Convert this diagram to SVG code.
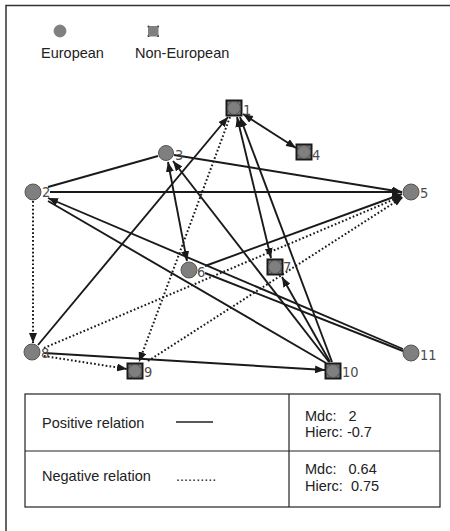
<svg xmlns="http://www.w3.org/2000/svg" width="450" height="531" viewBox="0 0 450 531">
<defs>
<style>
.e{stroke:#1a1a1a;stroke-width:1.9;fill:none}
.d{stroke:#1a1a1a;stroke-width:2;fill:none;stroke-dasharray:1.7 2.2}
.a{marker-end:url(#ah)}
.b{marker-start:url(#ah);marker-end:url(#ah)}
.eu{fill:#7f7f7f;stroke:#555;stroke-width:1}
.sq{fill:#777;stroke:#1a1a1a;stroke-width:2}
.lb{font-family:"DejaVu Sans Condensed","DejaVu Sans",sans-serif;font-size:14.5px;fill:#4d4d4d}
.t{font-family:"Liberation Sans",Arial,sans-serif;font-size:14.5px;fill:#222}
</style>
<marker id="ah" viewBox="0 0 10 8" refX="10" refY="4" markerWidth="10" markerHeight="8" markerUnits="userSpaceOnUse" orient="auto-start-reverse">
<path d="M0,0 L10,4 L0,8 z" fill="#1a1a1a"/>
</marker>
</defs>
<rect width="450" height="531" fill="#fff"/>
<path d="M6,531 V5.5 H450" fill="none" stroke="#333" stroke-width="1.5"/>
<g id="legend-top">
<circle cx="60" cy="31" r="6" fill="#808080" stroke="#777" stroke-width="0.8"/>
<rect x="148" y="26" width="10.5" height="10.5" fill="#808080" stroke="#333" stroke-width="1" stroke-dasharray="2.5 8" stroke-dashoffset="1.25"/>
<text class="t" x="41" y="58">European</text>
<text class="t" x="135" y="58">Non-European</text>
</g>
<g id="connectors">
<line class="e" x1="48" y1="187" x2="158" y2="156"/>
<line class="e a" x1="174" y1="155" x2="402" y2="192"/>
<line class="e a" x1="50" y1="192" x2="402" y2="192"/>
<line class="e a" x1="205" y1="266" x2="402" y2="194"/>
<line class="d a" x1="44" y1="348" x2="402" y2="196"/>
<line class="d a" x1="148" y1="361" x2="403" y2="197"/>
<line class="e a" x1="403" y1="349" x2="48" y2="198"/>
<line class="e" x1="205" y1="273" x2="403" y2="351"/>
<line class="e" x1="48" y1="201" x2="326" y2="363"/>
<line class="d a" x1="33" y1="201" x2="33" y2="343"/>
<line class="e a" x1="38" y1="345" x2="228" y2="117"/>
<line class="d a" x1="230" y1="117" x2="139" y2="362"/>
<line class="d a" x1="44" y1="356" x2="127" y2="369"/>
<line class="e a" x1="44" y1="353" x2="325" y2="370"/>
<line class="e b" x1="243" y1="114" x2="296" y2="148"/>
<line class="e b" x1="168" y1="162" x2="187" y2="261"/>
<line class="e a" x1="329" y1="362" x2="173" y2="161"/>
<line class="e b" x1="237" y1="117" x2="271" y2="258"/>
<line class="e a" x1="332" y1="362" x2="240" y2="117"/>
<line class="e a" x1="330" y1="362" x2="282" y2="277"/>
</g>
<g id="n1"><rect class="sq" x="226.5" y="100.5" width="15" height="15"/><circle class="eu" cx="234" cy="108" r="6.5"/><text class="lb" x="243" y="115">1</text></g>
<g id="n2"><circle class="eu" cx="33" cy="192" r="8"/><text class="lb" x="42" y="197">2</text></g>
<g id="n3"><circle class="eu" cx="166" cy="153" r="7.5"/><text class="lb" x="175" y="160">3</text></g>
<g id="n4"><rect class="sq" x="296.5" y="144.5" width="15" height="15"/><circle class="eu" cx="304" cy="152" r="6.5"/><text class="lb" x="312" y="160">4</text></g>
<g id="n5"><circle class="eu" cx="411" cy="192" r="8"/><text class="lb" x="420" y="198">5</text></g>
<g id="n6"><circle class="eu" cx="189" cy="270" r="8"/><text class="lb" x="197" y="277">6</text></g>
<g id="n7"><rect class="sq" x="267.5" y="259.5" width="15" height="15"/><circle class="eu" cx="275" cy="267" r="6.5"/><text class="lb" x="283" y="272">7</text></g>
<g id="n8"><circle class="eu" cx="32" cy="352" r="8"/><text class="lb" x="41" y="358">8</text></g>
<g id="n9"><rect class="sq" x="127.5" y="363.5" width="15" height="15"/><circle class="eu" cx="135" cy="371" r="6.5"/><text class="lb" x="144" y="377">9</text></g>
<g id="n10"><rect class="sq" x="325.5" y="363.5" width="15" height="15"/><circle class="eu" cx="333" cy="371" r="6.5"/><text class="lb" x="342" y="377">10</text></g>
<g id="n11"><circle class="eu" cx="411" cy="353" r="8"/><text class="lb" x="420" y="360">11</text></g>
<g id="legend-table">
<rect x="25" y="394" width="415" height="113" fill="none" stroke="#222" stroke-width="1.2"/>
<line x1="25" y1="451" x2="440" y2="451" stroke="#222" stroke-width="1.2"/>
<line x1="289" y1="394" x2="289" y2="507" stroke="#222" stroke-width="1.2"/>
<text class="t" x="42" y="428">Positive relation</text>
<line x1="176" y1="422" x2="213" y2="422" stroke="#222" stroke-width="1.5"/>
<text class="t" x="42" y="481">Negative relation</text>
<text class="t" x="176" y="481">..........</text>
<text class="t" x="305" y="421" xml:space="preserve">Mdc:   2</text>
<text class="t" x="305" y="437" xml:space="preserve">Hierc: -0.7</text>
<text class="t" x="305" y="474" xml:space="preserve">Mdc:   0.64</text>
<text class="t" x="305" y="491" xml:space="preserve">Hierc:  0.75</text>
</g>
</svg>
